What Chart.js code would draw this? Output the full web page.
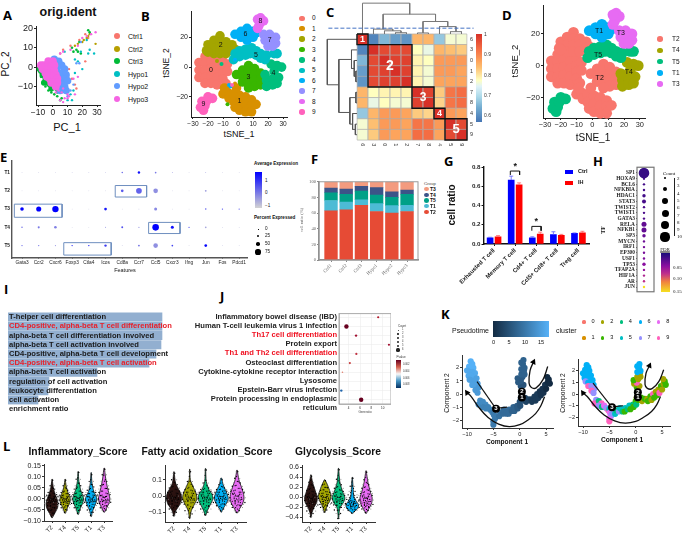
<!DOCTYPE html>
<html>
<head>
<meta charset="utf-8">
<title>T cell figure</title>
<script src="https://cdn.jsdelivr.net/npm/chart.js@4"></script>
<style>
  body { margin: 0; background: #fff; width: 685px; height: 535px; position: relative; overflow: hidden; }
  canvas { position: absolute; }
  .t { position: absolute; white-space: nowrap; line-height: 1; }
  .s { position: absolute; }
</style>
</head>
<body>
<script>
// ---- data ----
const pcGroups = ['Ctrl1', 'Ctrl2', 'Ctrl3', 'Hypo1', 'Hypo2', 'Hypo3']
const pcColors = ['#F8766D', '#B79F00', '#00BA38', '#00BFC4', '#619CFF', '#F564E3']
const pcCtrl1 = [[8,-1],[10,-3],[11,-6],[13,-6],[15,-9],[16,-11],[5,7],[7,9],[12,11],[18,14],[22,17],[24,15],[11,-1],[3,-9],[22,3]]
const pcCtrl2 = [[24,16],[23,15],[21,14],[20,13],[17,12],[15,11],[29,12],[25,17]]
const pcCtrl3 = [[25,18],[24,19],[18,13],[16,9],[17,8],[19,7],[13,10],[14,8],[-9,-2],[-8,-5],[-7,-8],[-5,-10],[-3,-12],[-1,-13],[1,-14],[3,-15],[5,-17],[6,-16],[-5,-7],[-2,-10],[3,-13]]
const pcHypo1 = [[23,14],[25,9],[28,7],[19,8],[15,4],[17,3],[20,-1],[7,-1],[12,-14],[14,-12],[10,-17],[13,-17],[24,7],[8,8],[15,-3]]
const pcHypo2 = [[19,13],[16,2],[18,2],[14,-9],[12,-12],[10,-15]]
const pcHypo3 = [[7,8],[5,7],[12,9],[17,11],[20,15],[29,18],[26,17],[23,16],[8,-16],[7,-18],[10,-14],[5,-17],[11,-15],[6,-13],[14,-6],[17,-5],[15,-14],[10,-16],[4,-12],[7,-11],[2,-13]]
const pcCoreGreen = [[-8,-2],[-7,-4],[-5,-6],[-8,0],[-4,-8],[-2,-9],[-9,-1],[1,-10],[3,-11],[-6,-8],[-1,-11]]
const pcCoreBlue = [[1,4],[4,3],[6,1],[8,-1],[6,-3],[9,-4],[7,-6],[10,-7],[6,-9],[8,-10],[5,-12],[9,-12],[3,0],[4,-3],[4,-7]]
const pcCorePink = [[-6,1],[-3,3],[0,3],[-7,-1],[-4,0],[-1,0],[1,1],[-5,-3],[-2,-3],[1,-2],[2,-4],[-2,-6],[0,-5],[3,-6],[1,-8],[3,-8],[-8,1],[-4,-5],[-1,-8],[2,-10]]

const clusterColors = ['#F8766D', '#D89000', '#A3A500', '#39B600', '#00BF7D', '#00BFC4', '#00B0F6', '#9590FF', '#E76BF3', '#FF62BC']
const tsne0 = [[-26,3],[-26,-2],[-26,-7],[-22,7],[-22,2.5],[-22,-2],[-22,-7],[-22,-11],[-18,8],[-18,3.5],[-18,-1],[-18,-6],[-18,-11],[-14,7],[-14,2.5],[-14,-2],[-14,-7],[-14,-12],[-10,4],[-10,0],[-10,-4],[-10,-8],[-8,-11],[-7,2],[-7,-3]]
const tsne1 = [[-10,-18],[-7,-17],[-6,-21],[-3,-18],[-3,-23],[-2,-27],[1,-19],[1,-24],[1,-29],[5,-20],[5,-25],[5,-30],[9,-22],[9,-26],[9,-30],[12,-25],[-9,-14],[-1,-14]]
const tsne2 = [[-20,15],[-16,18],[-16,13],[-16,9],[-12,21],[-12,17],[-12,13],[-12,9],[-8,17],[-8,13],[-8,9],[-4,15],[-4,11],[-2,12],[-21,11],[-20,10]]
const tsne3 = [[-1,-5],[3,-2],[3,-6],[3,-10],[7,1],[7,-3],[7,-7],[7,-11],[11,-1],[11,-5],[11,-9],[11,-13],[15,-4],[15,-8],[15,-12],[7,-14]]
const tsne4 = [[29,0],[26,1],[22,2],[24,-3],[19,-9],[23,-8],[27,-7],[19,-13],[23,-12],[26,-11],[18,-5]]
const tsne5 = [[-2,9],[1,11],[1,7],[5,8],[5,12],[9,13],[12,11],[12,8],[15,9],[15,6],[19,8],[18,5],[8,9],[24,9],[26,9],[-3,5]]
const tsne6 = [[-2,22],[2,24],[2,20],[6,26],[6,22],[6,18],[10,24],[10,20],[12,23]]
const tsne7 = [[17,22],[21,22],[25,20],[18,18],[22,18],[25,16],[20,14],[23,14]]
const tsne8 = [[15,33],[15,30],[13,26],[14,28],[17,31],[13,32]]
const tsne9 = [[-24,-23],[-22,-26],[-25,-27],[-21,-23],[-23,-29],[-17,-21],[-20,-20]]
const tsneClusters = [tsne0, tsne1, tsne2, tsne3, tsne4, tsne5, tsne6, tsne7, tsne8, tsne9]
const tsneLabelPos = [[-18,-2],[1,-23],[-11.5,14.7],[7,-7],[23.5,-4],[12,8],[5,22],[21,18],[15,31],[-23,-25]]
const tsneStray = [[-6,-12,6],[-5,-13,6],[-2,-11,1],[-7,-25,3],[-14,4,2],[-11,2,4],[-2,5,6],[-4,-12,9]]

const tGroups = ['T2', 'T4', 'T5', 'T1', 'T3']
const tColors = ['#F8766D', '#A3A500', '#00BF7D', '#00B0F6', '#E76BF3']
const tClusterMembers = [[0, 1, 2, 3], [4], [5, 9], [6], [7, 8]]
const tLabelPos = [[4.6,-8],[23,-3.8],[3.6,6.6],[4.2,22],[18,20.6]]

const corrOrder = ['6', '3', '0', '1', '2', '7', '8', '4', '5', '9']
const corrRow6 = [1, .6, .66, .63, .62, .85, .85, .68, .77, .77]
const corrRow3 = [.6, 1, .97, .97, .97, .78, .76, .85, .84, .83]
const corrRow0 = [.66, .97, 1, .98, .98, .79, .78, .88, .88, .88]
const corrRow1 = [.63, .97, .98, 1, .98, .79, .77, .88, .88, .87]
const corrRow2 = [.62, .97, .98, .98, 1, .79, .77, .87, .87, .87]
const corrRow7 = [.85, .78, .79, .79, .79, 1, .98, .83, .92, .93]
const corrRow8 = [.85, .76, .78, .77, .77, .98, 1, .82, .92, .93]
const corrRow4 = [.68, .85, .88, .88, .87, .83, .82, 1, .88, .87]
const corrRow5 = [.77, .84, .88, .88, .87, .92, .92, .88, 1, .97]
const corrRow9 = [.77, .83, .88, .87, .87, .93, .93, .87, .97, 1]
const corrRows = [corrRow6, corrRow3, corrRow0, corrRow1, corrRow2, corrRow7, corrRow8, corrRow4, corrRow5, corrRow9]
const corrBlocks = [[0, 0], [1, 4], [5, 6], [7, 7], [8, 9]]
const dendroTop = [[0,-.5,0,-3.41],[0,-3.41,4.29,-3.41],[4.29,-3.41,4.29,-2.37],[1.875,-2.37,6.64,-2.37],[1.875,-2.37,1.875,-.96],[1,-.96,2.75,-.96],[1,-.96,1,-.5],[2.75,-.96,2.75,-.8],[2,-.8,3.5,-.8],[2,-.8,2,-.5],[3.5,-.8,3.5,-.62],[3,-.62,4,-.62],[3,-.62,3,-.5],[4,-.62,4,-.5],[6.64,-2.37,6.64,-1.68],[5.5,-1.68,7.75,-1.68],[5.5,-1.68,5.5,-.6],[5,-.6,6,-.6],[5,-.6,5,-.5],[6,-.6,6,-.5],[7.75,-1.68,7.75,-1.2],[7,-1.2,8.5,-1.2],[7,-1.2,7,-.5],[8.5,-1.2,8.5,-.72],[8,-.72,9,-.72],[8,-.72,8,-.5],[9,-.72,9,-.5]]
const dendroLeft = [[-3.2,0,-.5,0],[-3.2,0,-3.2,4.29],[-3.2,4.29,-2.15,4.29],[-2.15,1.9,-2.15,6.9],[-2.15,1.9,-1,1.9],[-1,1,-1,2.75],[-1,1,-.5,1],[-1,2.75,-.75,2.75],[-.75,2,-.75,3.5],[-.75,2,-.5,2],[-.75,3.5,-.6,3.5],[-.6,3,-.6,4],[-.6,3,-.5,3],[-.6,4,-.5,4],[-2.15,6.9,-1.15,6.9],[-1.15,5.5,-1.15,8],[-1.15,5.5,-.6,5.5],[-.6,5,-.6,6],[-.6,5,-.5,5],[-.6,6,-.5,6],[-1.15,8,-.9,8],[-.9,7,-.9,8.5],[-.9,7,-.5,7],[-.9,8.5,-.65,8.5],[-.65,8,-.65,9],[-.65,8,-.5,8],[-.65,9,-.5,9]]

const dotFeatures = ['Gata3', 'Ccr2', 'Cxcr6', 'Foxp3', 'Ctla4', 'Icos', 'Cd8a', 'Ccr7', 'Ccl5', 'Cxcr3', 'Ifng', 'Jun', 'Fos', 'Pdcd1']
const dotRows = ['T1', 'T2', 'T3', 'T4', 'T5']
const dotPct = [
  [3, 3, 3, 3, 3, 4, 15, 30, 18, 6, 2, 5, 2, 2],
  [2, 2, 2, 1, 2, 3, 35, 85, 67, 2, 2, 20, 2, 1],
  [50, 75, 96, 2, 2, 35, 2, 4, 40, 2, 2, 15, 12, 10],
  [15, 25, 33, 2, 2, 8, 22, 10, 100, 40, 10, 18, 3, 3],
  [12, 12, 8, 12, 12, 30, 5, 22, 67, 18, 3, 35, 3, 3]
]
const dotAvg = [
  [-.6, -.6, -.6, -.5, -.5, -.4, .4, 1.6, .2, -.2, -.7, -.3, -.6, -.6],
  [-.7, -.7, -.7, -.7, -.7, -.7, .6, .5, -.1, -.7, -.7, -.3, -.7, -.7],
  [1.8, 1.8, 1.8, -.7, -.7, 1.5, -.7, -.5, 0, -.7, -.7, .6, .8, .8],
  [.3, .2, .1, -.7, -.7, -.2, .7, -.1, 1.8, 1.6, .9, -.4, -.6, -.6],
  [.4, .3, -.1, 1.3, 1.6, 1, -.6, .2, -.1, .9, -.7, 1.7, -.6, -.6]
]
const dotBoxes = [[-.46, 1.73, 2.4, 2.45], [5.58, .71, 7.46, 1.34], [7.58, 2.73, 9.46, 3.34], [2.5, 3.84, 5.34, 4.52]]

const stackSamples = ['Ctrl1', 'Ctrl2', 'Ctrl3', 'Hypo1', 'Hypo2', 'Hypo3']
const stackT2 = [63, 64, 70, 62, 60, 62]
const stackT1 = [13, 10, 7, 10, 9.5, 8]
const stackT5 = [10, 10, 11, 11, 10.5, 14]
const stackT4 = [6, 6.5, 6, 9.5, 7, 5.5]
const stackT3 = [8, 9.5, 6, 7.5, 13, 10.5]

const ratioLabels = ['Exhausted T cell', 'Memory T cell', 'Cd4+ T cell', 'Ccl5+ Cd8+ T cell', 'Treg cell']
const ratioCtrl = [.065, .665, .065, .097, .11]
const ratioIH = [.075, .615, .103, .09, .117]
const ratioCtrlErr = [.005, .04, .01, .03, .005]
const ratioIHErr = [.012, .02, .02, .01, .015]

const tfNames = ['SP1', 'HOXA9', 'BCL6', 'NFKBIA', 'HDAC1', 'STAT3', 'TWIST2', 'TWIST1', 'GATA3', 'RELA', 'NFKB1', 'SP3', 'MYCN', 'IRF1', 'EP300', 'USF1', 'TP53', 'TFAP2A', 'HIF1A', 'AR', 'JUN']
const tfCount = [10, 2, 2, 2, 3, 4, 2, 2, 2, 5, 5, 3, 2, 2, 2, 2, 3, 2, 2, 2, 2]
const tfFdr = [.012, .018, .018, .018, .018, .02, .022, .022, .024, .032, .032, .034, .036, .04, .042, .044, .05, .056, .07, .08, .15]

const goTerms = ['T-helper cell differentiation', 'CD4-positive, alpha-beta T cell differentiation', 'alpha-beta T cell differentiation involved', 'alpha-beta T cell activation involved', 'CD4-positive, alpha-beta T cell development', 'CD4-positive, alpha-beta T cell activation', 'alpha-beta T cell activation', 'regulation of cell activation', 'leukocyte differentiation', 'cell activation']
const goRatio = [15.4, 15.4, 15.4, 15.3, 14.8, 14.1, 8.9, 4.1, 4.0, 3.0]
const goRed = [1, 5]

const keggLines = ['Inflammatory bowel disease (IBD)', 'Human T-cell leukemia virus 1 infection', 'Th17 cell differentiation', 'Protein export', 'Th1 and Th2 cell differentiation', 'Osteoclast differentiation', 'Cytokine-cytokine receptor interaction', 'Lysosome', 'Epstein-Barr virus infection', 'Protein processing in endoplasmic', 'reticulum']
const keggRed = [2, 4]
const keggX = [9.2, 3.6, 5.3, 11.1, 5.35, 4.2, 2.9, null, 2.7, 6.2]
const keggSize = [1.1, 2.2, 1.2, 1.1, 1.1, 1.1, .8, 0, 1.2, 2.2]
const keggColor = ['#B2182B', '#67001F', '#A01030', '#A01030', '#C03040', '#C84040', '#E08070', '#fff', '#2166AC', '#67001F']

// x, y, pseudotime, cluster
const trajTop = [[-9.3,2.5,17,6],[-9,2.3,17,6],[-9.6,2.1,17,6],[-8.8,2,17,6],[-9.3,2,17,6],[-10,1.8,16,6],[-9.5,1.7,16,6],[-9,1.7,16,6],[-8.5,1.6,16,6],[-9.7,1.4,16,6],[-9.2,1.4,16,6],[-8.7,1.3,16,6],[-8.2,1.2,15,6],[-9.5,1.1,15,7],[-9,1,15,6],[-8.5,1,15,6],[-8,.8,15,6],[-9,.7,15,9],[-8.4,.7,15,7],[-7.8,.5,14,7],[-8.4,.3,14,9],[-8,.1,14,7]]
const trajMid = [[-7.5,-.5,12,7],[-7.8,-.8,12,9],[-7,-.6,12,4],[-6.5,-.8,12,9],[-7,-1,11,7],[-6.4,-1.1,11,4],[-6,-1,11,8],[-5.6,-1.2,11,7],[-5.2,-1.4,11,9],[-5,-1.3,10,5],[-4.9,-1.6,10,8],[-4.7,-1.9,10,7],[-5,-2.1,10,8],[-5,-2.35,10,9],[-4.5,-1.7,10,7]]
const trajArc = [[-3.9,-1.7,9,5],[-3.7,-1.4,9,4],[-3.2,-1.5,8,7],[-3,-1.2,8,5],[-2.5,-1.5,8,4],[-2,-1.2,8,5],[-2.1,-1.5,8,3],[-1.5,-1.3,7,4],[-1.2,-1,7,5],[-1,-1.3,7,3],[-.5,-.9,6,4],[-.4,-1.1,6,3],[0,-.6,5,3],[.1,-.9,5,4],[.2,-.3,5,2],[.5,-.5,5,3]]
const trajUp = [[.4,.2,5,2],[.2,.6,5,3],[.7,.7,5,2],[-.3,.9,6,2],[.2,1,6,9],[-.4,1.2,6,3],[.5,1.3,6,2],[.3,1.5,7,2],[.9,1.5,7,2],[.8,1.8,7,2],[.3,1.9,7,6],[.9,2,7,6],[.6,2.3,7,6],[.3,2.4,7,6],[.7,2.6,7,6]]
const trajRight = [[1,-.3,3,3],[1.2,-.6,3,2],[1.7,-.4,3,3],[2.2,-.4,2,2],[2.3,-.6,2,3],[2.8,-.2,2,3],[3,-.5,2,2],[3.3,0,2,9],[3.5,-.3,2,3],[3.8,.2,1,2],[4,-.1,1,3],[4.3,.4,1,2],[4.5,.1,1,9],[4.8,.7,1,3],[5,.4,0,2],[5.3,.9,0,2],[5.5,1.1,0,3],[5.2,1.3,0,2],[5.7,.8,0,3]]
const trajPoints = trajTop.concat(trajMid, trajArc, trajUp, trajRight)
const trajNodes = [[.4,-.27,'1'],[.4,.17,'2'],[-4.5,-1.13,'3']]
const arrowArc = [[4.7,-.2],[4,-.9],[3,-1.5],[1.5,-2],[0,-2.35],[-2,-2.5],[-4,-2.3],[-6,-1.8],[-8,-.9],[-9.2,-.2],[-10,.1]]
const arrowHook = [[5.3,2.1],[4.4,1.1],[3.1,.47],[2.2,.5],[1.76,.84],[1.95,1.8],[2.6,2.45]]
const arrowStem = [[-8.1,.95],[-4.3,-1.25]]
const arrowNode = [[-4.5,-1.1],[-2.4,-1]]

const scoreLabels = ['T2', 'T4', 'T5', 'T1', 'T3']
const violinColors = ['#2a1210', '#A3A500', '#00BF7D', '#00B0F6', '#E76BF3']
const jitter = [.05,-.15,.2,-.3,.35,-.4,.45,-.25,.1,-.45,.3,-.1,.5,-.35,.2,-.3,.15,-.05]
const inflamShapes = [
  [[.09,.01],[.05,.1],[.02,.25],[0,.38],[-.02,.46],[-.04,.42],[-.06,.25],[-.085,.02]],
  [[.09,.01],[.06,.08],[.03,.22],[.01,.36],[-.005,.4],[-.02,.34],[-.04,.18],[-.065,.02]],
  [[.125,.01],[.08,.06],[.04,.2],[.015,.36],[0,.42],[-.02,.34],[-.045,.15],[-.07,.02]],
  [[.12,.01],[.07,.07],[.035,.2],[.015,.36],[0,.44],[-.02,.36],[-.05,.14],[-.08,.01]],
  [[.14,.02],[.1,.1],[.06,.22],[.02,.38],[0,.44],[-.02,.36],[-.04,.2],[-.06,.03]]
]
const inflamDots = [
  [.085,.06,.045,.03,.02,.015,.01,.005,0,-.005,-.01,-.015,-.02,-.03,-.04,-.05,-.065,-.08],
  [.085,.06,.04,.03,.02,.015,.01,.005,0,-.005,-.01,-.015,-.02,-.025,-.03,-.04,-.05,-.06],
  [.12,.09,.06,.045,.03,.02,.015,.01,.005,0,-.005,-.01,-.015,-.02,-.03,-.04,-.05,-.065],
  [.11,.08,.055,.04,.03,.02,.015,.01,0,-.005,-.01,-.015,-.02,-.03,-.04,-.05,-.06,-.075],
  [.135,.11,.08,.06,.045,.03,.02,.015,.01,0,-.005,-.01,-.015,-.02,-.03,-.04,-.05,-.055]
]
const faoShapes = [
  [[.15,.01],[.08,.1],[.04,.3],[.01,.45],[-.02,.48],[-.05,.38],[-.09,.12],[-.125,.01]],
  [[.165,.01],[.1,.04],[.05,.25],[.01,.42],[-.02,.45],[-.05,.3],[-.09,.1],[-.14,.01]],
  [[.17,.01],[.09,.05],[.04,.22],[.01,.42],[-.02,.46],[-.05,.32],[-.09,.12],[-.12,.01]],
  [[.11,.03],[.07,.12],[.03,.3],[0,.42],[-.02,.44],[-.05,.3],[-.08,.1],[-.1,.01]],
  [[.16,.01],[.1,.12],[.05,.3],[.01,.42],[-.02,.44],[-.05,.34],[-.08,.15],[-.105,.02]]
]
const faoDots = [
  [.14,.1,.07,.05,.03,.02,.01,0,-.01,-.015,-.02,-.03,-.04,-.05,-.06,-.08,-.1,-.12],
  [.15,.09,.06,.04,.03,.02,.01,0,-.01,-.02,-.025,-.03,-.04,-.05,-.07,-.09,-.11,-.13],
  [.16,.08,.05,.04,.03,.02,.01,0,-.01,-.015,-.02,-.03,-.04,-.05,-.06,-.08,-.1,-.115],
  [.1,.07,.05,.04,.03,.02,.01,0,-.005,-.01,-.02,-.025,-.03,-.04,-.05,-.06,-.08,-.09],
  [.15,.11,.08,.06,.04,.03,.02,.01,0,-.01,-.02,-.03,-.04,-.05,-.06,-.07,-.09,-.1]
]
const glycoShapes = [
  [[.45,.01],[.3,.12],[.1,.35],[0,.46],[-.1,.42],[-.2,.22],[-.3,.08],[-.4,.01]],
  [[.35,.02],[.25,.2],[.1,.4],[.02,.46],[-.08,.36],[-.15,.2],[-.25,.08],[-.3,.01]],
  [[.58,.01],[.3,.1],[.1,.32],[0,.46],[-.1,.36],[-.2,.12],[-.3,.05],[-.43,.01]],
  [[.4,.01],[.2,.06],[0,.12],[-.08,.3],[-.15,.46],[-.22,.4],[-.27,.2],[-.32,.01]],
  [[.53,.01],[.3,.14],[.1,.32],[0,.44],[-.1,.42],[-.2,.26],[-.27,.1],[-.32,.02]]
]
const glycoDots = [
  [.42,.3,.2,.14,.08,.04,.02,0,-.03,-.06,-.09,-.12,-.15,-.18,-.22,-.27,-.32,-.38],
  [.33,.25,.19,.14,.1,.07,.04,.02,0,-.02,-.05,-.08,-.11,-.14,-.17,-.2,-.25,-.29],
  [.55,.36,.25,.18,.12,.08,.04,.02,0,-.03,-.06,-.09,-.12,-.15,-.2,-.25,-.32,-.42],
  [.38,.22,.12,.05,0,-.04,-.07,-.1,-.12,-.14,-.16,-.18,-.2,-.22,-.24,-.26,-.28,-.31],
  [.5,.35,.25,.18,.12,.08,.04,.01,-.02,-.05,-.08,-.11,-.14,-.17,-.2,-.23,-.26,-.3]
]

// ---- helpers ----
const SANS = '"Liberation Sans", Arial, sans-serif'
const SERIF = '"Liberation Serif", "Times New Roman", serif'
const heatStops = [[.58,'#4575B4'],[.65,'#74ADD1'],[.7,'#ABD9E9'],[.75,'#E0F3F8'],[.78,'#FFFFBF'],[.84,'#FDBF71'],[.87,'#FDA45C'],[.9,'#F88650'],[.93,'#F46D43'],[1,'#D73027']]
const fdrStops = [[0,'#1B0C7A'],[.05,'#8A0FA0'],[.08,'#C0308A'],[.11,'#F08040'],[.15,'#F5E020']]

Chart.defaults.animation = false
Chart.defaults.font.family = SANS

function hex(c) { return [1, 3, 5].map(i => parseInt(c.substr(i, 2), 16)) }
function ramp(stops, v) {
  if (v <= stops[0][0]) return stops[0][1]
  for (let i = 1; i < stops.length; i++) {
    if (v <= stops[i][0]) {
      const t = (v - stops[i - 1][0]) / (stops[i][0] - stops[i - 1][0])
      const a = hex(stops[i - 1][1]), b = hex(stops[i][1])
      return `rgb(${a.map((p, k) => Math.round(p + (b[k] - p) * t)).join(',')})`
    }
  }
  return stops[stops.length - 1][1]
}
function cssGradient(dir, stops) {
  const lo = stops[0][0], hi = stops[stops.length - 1][0]
  return `linear-gradient(${dir},` + stops.map(s => `${s[1]} ${(s[0] - lo) / (hi - lo) * 100}%`).join(',') + ')'
}

function txt(s, x, y, o = {}) {
  const d = document.createElement('div')
  d.className = 't'
  d.textContent = s
  const ax = { l: 0, c: -50, r: -100 }[o.align || 'l']
  d.style.cssText = `left:${x}px;top:${y}px;font-size:${o.size || 7}px;font-weight:${o.bold ? 700 : 400};` +
    `color:${o.color || '#111'};font-family:${o.font || SANS};transform:translate(${ax}%,-50%) rotate(${o.rot || 0}deg);` +
    (o.under ? 'text-decoration:underline;' : '')
  document.body.appendChild(d)
}
function swatch(x, y, w, h, bg, round) {
  const d = document.createElement('div')
  d.className = 's'
  d.style.cssText = `left:${x}px;top:${y}px;width:${w}px;height:${h}px;background:${bg};` + (round ? 'border-radius:50%;' : '')
  document.body.appendChild(d)
}
function dot(x, y, r, c) { swatch(x - r, y - r, 2 * r, 2 * r, c, true) }

function notes(items) {
  return {
    id: 'notes',
    afterDatasetsDraw(chart) {
      const ctx = chart.ctx
      items.forEach(n => {
        const px = chart.scales.x.getPixelForValue(n.x)
        const py = chart.scales.y.getPixelForValue(n.y)
        ctx.save()
        ctx.translate(px, py)
        if (n.rot) ctx.rotate(n.rot)
        ctx.font = n.font || `7px ${SANS}`
        ctx.fillStyle = n.color || '#111'
        ctx.textAlign = n.align || 'center'
        ctx.textBaseline = 'middle'
        ctx.fillText(n.text, 0, 0)
        ctx.restore()
      })
    }
  }
}
function frame(color, w) {
  return {
    id: 'frame',
    afterDraw(chart) {
      const a = chart.chartArea, ctx = chart.ctx
      ctx.save()
      ctx.strokeStyle = color
      ctx.lineWidth = w
      ctx.strokeRect(a.left, a.top, a.right - a.left, a.bottom - a.top)
      ctx.restore()
    }
  }
}

// box = plot area in page pixels, m = room kept round it for ticks and labels
function plot(box, m, cfg) {
  const [l, t, r, b] = box, [ml, mt, mr, mb] = m
  const c = document.createElement('canvas')
  const w = r - l + ml + mr, h = b - t + mt + mb
  c.width = w
  c.height = h
  c.style.cssText = `left:${l - ml}px;top:${t - mt}px;width:${w}px;height:${h}px`
  document.body.appendChild(c)
  const scales = cfg.scales
  if (scales.x.display !== false) scales.x.afterFit = s => { s.height = mb }
  if (scales.y.display !== false) scales.y.afterFit = s => { s.width = ml }
  if (cfg.layered !== false) {
    const n = cfg.datasets.length
    cfg.datasets.forEach((d, i) => { d.order = n - i })
  }
  return new Chart(c, {
    type: cfg.type || 'scatter',
    data: { labels: cfg.labels, datasets: cfg.datasets },
    plugins: cfg.plugins || [],
    options: {
      responsive: false,
      events: [],
      indexAxis: cfg.indexAxis || 'x',
      layout: {
        autoPadding: false,
        padding: {
          left: scales.y.display === false ? ml : 0, top: mt, right: mr,
          bottom: scales.x.display === false ? mb : 0
        }
      },
      plugins: { legend: { display: false }, tooltip: { enabled: false } },
      scales
    }
  })
}
function axis(min, max, list, o = {}) {
  const color = o.axis || '#222'
  return {
    type: 'linear', min, max, offset: false, reverse: !!o.reverse, stacked: !!o.stacked,
    afterBuildTicks: s => { s.ticks = list.map(v => ({ value: v })) },
    ticks: {
      font: { size: o.size || 7, family: o.font || SANS, weight: o.bold ? 'bold' : 'normal' },
      color: o.color || '#222', padding: o.pad === undefined ? 1 : o.pad, autoSkip: false,
      maxRotation: o.rot || 0, minRotation: o.rot || 0,
      callback: o.fmt || (v => String(v).replace('-', '−'))
    },
    grid: o.grid ? { color: o.grid, lineWidth: .5, tickLength: 1, offset: false } : { drawOnChartArea: false, color, tickLength: o.tick === undefined ? 2 : o.tick, offset: false },
    border: { display: o.noBorder ? false : true, color, width: o.w || 1 }
  }
}
function hidden(min, max, reverse) { return { type: 'linear', display: false, offset: false, min, max, reverse: !!reverse } }
function pts(list) { return list.map(p => ({ x: p[0], y: p[1] })) }
function dots(list, color, r) {
  return { data: pts(list), pointRadius: r, pointBackgroundColor: color, pointBorderWidth: 0, clip: false }
}
function poly(list, color, w, dash) {
  return { data: pts(list), showLine: true, borderColor: color, borderWidth: w, borderDash: dash || [], pointRadius: 0, tension: 0, clip: false, spanGaps: false }
}
function segments(list) {
  const flat = []
  list.forEach(s => flat.push([s[0], s[1]], [s[2], s[3]], [NaN, NaN]))
  return flat
}
function rectPath(x1, y1, x2, y2) { return [[x1, y1], [x2, y1], [x2, y2], [x1, y2], [x1, y1]] }

// ---- panel letters ----
const panelLetters = [['A',3,15],['B',141,16],['C',326,12],['D',502,15],['E',0,157],['F',311,159],['G',444,161],['H',593,161],['I',4,289],['J',220,296],['K',441,314],['L',3,446]]
panelLetters.forEach(p => txt(p[0], p[1], p[2], { size: 13, bold: true, font: '"Open Sans", sans-serif', color: '#000' }))

// ---- A ----
txt('orig.ident', 68, 12, { size: 12.5, bold: true, align: 'c' })
plot([36, 23, 100, 105], [18, 3, 6, 13], {
  scales: { x: axis(-11.4, 32, [-10, 0, 10, 20, 30], { size: 8.5 }), y: axis(-19.5, 21, [-10, 0, 10, 20], { size: 9 }) },
  datasets: [
    dots(pcCoreGreen, pcColors[2], 3),
    dots(pcCtrl1, pcColors[0], 1.2), dots(pcCtrl2, pcColors[1], 1.2), dots(pcCtrl3, pcColors[2], 1.3), dots(pcHypo1, pcColors[3], 1.2),
    dots(pcCoreBlue, pcColors[4], 3.8), dots(pcHypo2, pcColors[4], 1.2),
    dots(pcCorePink, pcColors[5], 4), dots(pcHypo3, pcColors[5], 1.2)
  ]
})
txt('PC_2', 6, 64, { size: 10, align: 'c', rot: -90 })
txt('PC_1', 67, 127, { size: 11, align: 'c' })
pcGroups.forEach((g, i) => { dot(117, 36 + i * 12.6, 3, pcColors[i]); txt(g, 128, 36 + i * 12.6, { size: 7 }) })

// ---- B ----
const tsneX = [-30, -20, -10, 0, 10, 20, 30]
plot([191, 9, 287, 117], [16, 3, 5, 10], {
  scales: { x: axis(-31.3, 32.6, tsneX, { size: 6.6 }), y: axis(-33.5, 37.5, [-20, 0, 20], { size: 7 }) },
  datasets: tsneClusters.map((p, i) => dots(p, clusterColors[i], 4.8)).concat(tsneStray.map(s => dots([s], clusterColors[s[2]], 2))),
  plugins: [notes(tsneLabelPos.map((p, i) => ({ x: p[0], y: p[1], text: String(i), font: `7px ${SANS}`, color: '#111' })))]
})
txt('tSNE_2', 166, 63, { size: 8.5, align: 'c', rot: -90 })
txt('tSNE_1', 239, 134, { size: 9, align: 'c' })
clusterColors.forEach((c, i) => { dot(302, 18.3 + i * 10.4, 2.7, c); txt(String(i), 312, 18.3 + i * 10.4, { size: 6.5 }) })

// ---- C ----
const heatCells = []
corrRows.forEach((row, j) => row.forEach((v, i) => heatCells.push({ x: i, y: j, v })))
const heatNotes = [
  ...corrOrder.map((s, i) => ({ x: 9.77, y: i, text: s, align: 'left', font: `5.5px ${SANS}`, color: '#333' })),
  ...corrOrder.map((s, i) => ({ x: i, y: 9.95, text: s, rot: Math.PI / 2, font: `5.5px ${SANS}`, color: '#333' })),
  { x: 0, y: 0, text: '1', color: '#fff', font: `bold 9px ${SANS}` },
  { x: 2.5, y: 2.5, text: '2', color: '#fff', font: `bold 14px ${SANS}` },
  { x: 5.5, y: 5.5, text: '3', color: '#fff', font: `bold 12px ${SANS}` },
  { x: 7, y: 7, text: '4', color: '#fff', font: `bold 9px ${SANS}` },
  { x: 8.5, y: 8.5, text: '5', color: '#fff', font: `bold 13px ${SANS}` }
]
plot([326, 1, 478, 152], [0, 1, 0, 0], {
  scales: { x: hidden(-3.318, 10.5), y: hidden(-3.613, 10.63, true) },
  datasets: [
    {
      data: heatCells, pointStyle: 'rect', pointRadius: 7.6, pointBorderWidth: .6, pointBorderColor: '#a8a8a8', clip: false,
      pointBackgroundColor: heatCells.map(c => ramp(heatStops, c.v))
    },
    poly(segments(dendroTop), '#777', 1),
    poly(segments(dendroLeft), '#555', 1),
    poly([[-3.1, -1.05], [10.1, -1.05]], '#4472C4', 1, [4, 2]),
    ...corrBlocks.map(b => poly(rectPath(b[0] - .5, b[0] - .5, b[1] + .5, b[1] + .5), '#111', 1.4))
  ],
  plugins: [notes(heatNotes)]
})
swatch(476, 34, 6, 88, cssGradient('to top', heatStops))
const heatTicks = [['1', 34], ['0.9', 54], ['0.8', 75], ['0.7', 95], ['0.6', 115]]
heatTicks.forEach(k => txt(k[0], 484, k[1], { size: 5, color: '#333' }))

// ---- D ----
plot([543, 0, 645, 118], [18, 0, 6, 12], {
  scales: { x: axis(-31.3, 33.3, tsneX, { size: 7.4 }), y: axis(-33, 37.7, [-20, 0, 20], { size: 8 }) },
  datasets: tClusterMembers.map((ids, i) => dots(ids.flatMap(k => tsneClusters[k]), tColors[i], 5.4)),
  plugins: [notes(tLabelPos.map((p, i) => ({ x: p[0], y: p[1], text: tGroups[i], font: `7px ${SANS}`, color: '#111' })))]
})
txt('tSNE_2', 515, 61, { size: 9.5, align: 'c', rot: -90 })
txt('tSNE_1', 593, 138, { size: 10, align: 'c' })
tGroups.forEach((g, i) => { dot(660, 39 + i * 11.3, 2.8, tColors[i]); txt(g, 672, 39 + i * 11.3, { size: 6.5 }) })

// ---- E ----
const dotCells = []
dotPct.forEach((row, j) => row.forEach((p, i) => dotCells.push({ x: i, y: j, r: .3 + p * .03, c: ramp([[-1,'#D3D3D3'],[1.8,'#0000FF']], dotAvg[j][i]) })))
plot([12, 158, 247, 258], [11, 1, 1, 11], {
  scales: {
    x: axis(-.6, 13.47, dotFeatures.map((f, i) => i), { size: 4.8, axis: '#555', w: 1.4, tick: 1, fmt: v => dotFeatures[v] }),
    y: axis(-.64, 4.68, dotRows.map((f, i) => i), { size: 4.8, bold: true, axis: '#555', w: 1.4, tick: 1, reverse: true, fmt: v => dotRows[v] })
  },
  datasets: [
    { data: dotCells, pointRadius: dotCells.map(c => c.r), pointBackgroundColor: dotCells.map(c => c.c), pointBorderWidth: 0 },
    ...dotBoxes.map(b => poly(rectPath(b[0], b[1], b[2], b[3]), '#6F8FBF', 1))
  ]
})
txt('Features', 125, 271, { size: 5.5, align: 'c' })
txt('Average Expression', 254, 164, { size: 4.6, bold: true })
swatch(255, 172, 7, 36, 'linear-gradient(to top,#D3D3D3,#0000FF)')
const expTicks = [['1', 181], ['0', 193], ['−1', 206]]
expTicks.forEach(k => txt(k[0], 265, k[1], { size: 4.6 }))
txt('Percent Expressed', 254, 218, { size: 4.6, bold: true })
const pctLegend = [['0', 229, .3], ['25', 236, 1.05], ['50', 244, 1.8], ['75', 252, 2.55]]
pctLegend.forEach(k => { dot(258, k[1], k[2], '#000'); txt(k[0], 265, k[1], { size: 4.6 }) })

// ---- F ----
const npg = { T2: '#E64B35', T1: '#4DBBD5', T5: '#00A087', T4: '#3C5488', T3: '#F39B7F' }
const stackSeries = [['T2', stackT2], ['T1', stackT1], ['T5', stackT5], ['T4', stackT4], ['T3', stackT3]]
plot([319, 180, 418, 260], [14, 2, 2, 22], {
  type: 'bar', layered: false,
  scales: {
    x: axis(-.79, 5.72, stackSamples.map((s, i) => i), { size: 4.8, font: SERIF, axis: '#888', w: 1.5, rot: 45, color: '#666', stacked: true, fmt: v => stackSamples[v] }),
    y: axis(0, 100, [0, 20, 40, 60, 80, 100], { size: 4.6, font: SERIF, axis: '#888', w: 1.5, color: '#666', stacked: true })
  },
  datasets: stackSeries.map(s => ({ data: s[1].map((v, i) => ({ x: i, y: v })), backgroundColor: npg[s[0]], barThickness: 12.7, borderWidth: 0 })),
  plugins: [frame('#999', 1)]
})
txt('cell ratio (%)', 302, 220, { size: 4.6, font: SERIF, align: 'c', rot: -90, color: '#666' })
txt('Group', 424, 184, { size: 4.6, font: SERIF, color: '#444' })
const stackLegend = ['T3', 'T4', 'T5', 'T1', 'T2']
stackLegend.forEach((g, i) => { swatch(424, 187 + i * 5.7, 5, 4.4, npg[g], true); txt(g, 430, 189 + i * 5.7, { size: 5, bold: true }) })

// ---- G ----
const groupShift = .188
const errorBars = {
  id: 'errorBars',
  afterDatasetsDraw(chart) {
    const errs = [ratioCtrlErr, ratioIHErr], cols = ['#5A5AFF', '#FF6060'], ctx = chart.ctx
    errs.forEach((list, k) => {
      chart.getDatasetMeta(k).data.forEach((bar, i) => {
        const top = chart.scales.y.getPixelForValue(chart.data.datasets[k].data[i].y + list[i])
        ctx.save()
        ctx.strokeStyle = cols[k]
        ctx.lineWidth = .8
        ctx.beginPath()
        ctx.moveTo(bar.x, bar.y)
        ctx.lineTo(bar.x, top)
        ctx.moveTo(bar.x - 2, top)
        ctx.lineTo(bar.x + 2, top)
        ctx.stroke()
        ctx.restore()
      })
    })
  }
}
const sigBrackets = [[.77, .717, .77, .758], [.77, .758, 1.21, .758], [1.21, .758, 1.21, .717], [1.79, .138, 1.79, .183], [1.79, .183, 2.23, .183], [2.23, .183, 2.23, .138]]
const sigStars = [[1, .805], [2, .23]]
plot([474, 167, 589, 244], [16, 8, 4, 56], {
  type: 'bar', layered: false,
  scales: {
    x: axis(-.5, 4.5, ratioLabels.map((s, i) => i), { size: 6, bold: true, axis: '#111', w: 1.4, rot: 45, fmt: v => ratioLabels[v] }),
    y: axis(0, .8, [0, .2, .4, .6, .8], { size: 6.2, bold: true, axis: '#111', w: 1.4, fmt: v => v.toFixed(1) })
  },
  datasets: [
    { data: ratioCtrl.map((v, i) => ({ x: i - groupShift, y: v })), backgroundColor: '#0000FF', barThickness: 6, grouped: false, borderWidth: 0 },
    { data: ratioIH.map((v, i) => ({ x: i + groupShift, y: v })), backgroundColor: '#FF0000', barThickness: 6, grouped: false, borderWidth: 0 },
    { type: 'scatter', ...poly(segments(sigBrackets), '#111', 1) }
  ],
  plugins: [errorBars, notes(sigStars.map(s => ({ x: s[0], y: s[1], text: '*', font: `bold 9px ${SANS}`, color: '#111' })))]
})
txt('cell ratio', 452, 205, { size: 10, bold: true, align: 'c', rot: -90 })
swatch(565, 170, 8, 3.5, '#0000FF')
txt('Ctrl', 578, 172, { size: 5.5, bold: true })
swatch(565, 181, 8, 3.5, '#FF0000')
txt('IH', 578, 183, { size: 5.5, bold: true })

// ---- H ----
const countR = { 2: 1.2, 3: 1.7, 4: 2, 5: 2.5, 10: 5.3 }
plot([637, 164, 654, 295], [36, 1, 1, 1], {
  scales: {
    x: hidden(-1, 1.43),
    y: axis(-1, 20.83, tfNames.map((n, i) => i), { size: 5.4, bold: true, font: SERIF, reverse: true, noBorder: true, axis: '#555', tick: 1, fmt: v => tfNames[v] })
  },
  datasets: [{
    data: tfNames.map((n, i) => ({ x: 0, y: i })), pointRadius: tfCount.map(c => countR[c]), pointBorderWidth: 0,
    pointBackgroundColor: tfFdr.map(v => ramp(fdrStops, v))
  }],
  plugins: [frame('#777', 1.2)]
})
txt('TF', 603, 230, { size: 6, bold: true, font: SERIF, align: 'c', rot: -90 })
txt('Count', 669, 173, { size: 5, font: SERIF, align: 'c' })
const countLegend = [[178, 1], [189, 2.2], [201, 2.9], [213, 3.5], [225, 4], [237, 4.6]]
countLegend.forEach(k => dot(665, k[0], k[1], '#000'))
swatch(674, 178, .7, 58, '#222')
const countTicks = ['2', '3', '4', '5', '6', '7', '8', '9', '10']
countTicks.forEach((s, i) => txt(s, 677, 178 + i * 7.3, { size: 5, font: SERIF }))
txt('FDR', 665, 249, { size: 5, font: SERIF, align: 'c', under: true })
swatch(661, 253, 9, 39, cssGradient('to bottom', fdrStops))
const fdrTicks = [['0.05', 267], ['0.10', 278], ['0.15', 291]]
fdrTicks.forEach(k => txt(k[0], 673, k[1], { size: 5, font: SERIF }))

// ---- I ----
plot([8, 312, 168, 405], [0, 0, 14, 0], {
  type: 'bar', layered: false, indexAxis: 'y',
  scales: { x: hidden(0, 16), y: hidden(-.55, 9.55, true) },
  datasets: [{ data: goRatio.map((v, i) => ({ x: v, y: i })), backgroundColor: '#92AFD0', barThickness: 8.3, borderWidth: 0, clip: false }],
  plugins: [notes(goTerms.map((s, i) => ({
    x: .1, y: i, text: s, align: 'left', font: `bold 7.6px ${SANS}`, color: goRed.includes(i) ? '#E8202A' : '#1a1a1a'
  })))]
})
txt('enrichment ratio', 9, 409, { size: 7.6, bold: true, color: '#1a1a1a' })

// ---- J ----
const keggCells = keggX.map((x, i) => ({ x, y: i })).filter(p => p.x !== null)
const keggRows = keggX.map((x, i) => i).filter(i => keggX[i] !== null)
plot([339, 312, 391, 404], [145, 0, 0, 13], {
  scales: {
    x: axis(2.29, 11.46, [4, 6, 8, 10], { size: 3, grid: '#e8e8e8', axis: '#bbb' }),
    y: axis(-.4, 9.46, [0, 1, 2, 3, 4, 5, 6, 7, 8, 9], { size: 1, grid: '#e8e8e8', axis: '#bbb', tick: 0, reverse: true, fmt: () => '' })
  },
  datasets: [{
    data: keggCells, pointBorderWidth: 0,
    pointRadius: keggRows.map(i => keggSize[i]), pointBackgroundColor: keggRows.map(i => keggColor[i])
  }],
  plugins: [frame('#aaa', 1), notes(keggLines.map((s, i) => ({
    x: 1.94, y: i * .985, text: s, align: 'right', font: `bold 7.6px ${SANS}`, color: keggRed.includes(i) ? '#F01020' : '#222'
  })))]
})
txt('Generatio', 365, 412, { size: 3, align: 'c', color: '#444' })
txt('Count', 402, 326, { size: 3, align: 'c', color: '#333' })
const keggSizeLegend = [[330, .5, '1'], [334, .7, '2'], [338, .9, '3'], [342, 1.1, '4'], [346, 1.3, '5'], [350, 1.6, '6']]
keggSizeLegend.forEach(k => { dot(398, k[0], k[1], '#222'); txt(k[2], 402, k[0], { size: 2.6, color: '#333' }) })
txt('Pvalue', 401, 357, { size: 3, align: 'c', color: '#333' })
swatch(396, 360, 5, 28, 'linear-gradient(to bottom,#67001F,#D6604D,#F7F7F7,#4393C3,#053061)')
const pvalTicks = [['0.002', 365], ['0.004', 372], ['0.006', 379], ['0.008', 385]]
pvalTicks.forEach(k => txt(k[0], 403, k[1], { size: 2.6, color: '#333' }))

// ---- K ----
txt('Pseudotime', 452, 330, { size: 7 })
swatch(493, 321, 56, 16, 'linear-gradient(to right,#132B43,#56B1F7)')
const timeTicks = [[0, 493.5], [5, 509], [10, 525], [15, 541]]
timeTicks.forEach(k => txt(String(k[0]), k[1], 343, { size: 5.6, align: 'c' }))
txt('cluster', 556, 330, { size: 7 })
clusterColors.forEach((c, i) => {
  const px = 584 + Math.floor(i / 2) * 18.7, py = i % 2 ? 338 : 322
  dot(px, py, 1.6, c)
  txt(String(i), px + 9, py, { size: 5.6, align: 'c' })
})
const timeRamp = [[0,'#132B43'],[17,'#56B1F7']]
function arrowHead(p, deg) {
  return { data: pts([p]), pointStyle: 'triangle', pointRotation: deg, pointRadius: 3.5, pointBackgroundColor: '#000', pointBorderWidth: 0, clip: false }
}
function trajPlot(box, xr, yr, colorOf) {
  return plot(box, [16, 2, 2, 12], {
    scales: {
      x: axis(xr[0], xr[1], [-10, -5, 0, 5], { size: 5.6, axis: '#333' }),
      y: axis(yr[0], yr[1], [-2, -1, 0, 1, 2], { size: 5.6, axis: '#333' })
    },
    datasets: [
      { data: pts(trajPoints), pointRadius: 3.1, pointBorderWidth: 0, clip: false, pointBackgroundColor: trajPoints.map(colorOf) },
      { ...poly(arrowArc, '#111', 1.3), tension: .4 },
      { ...poly(arrowHook, '#111', 1.3), tension: .4 },
      poly(arrowStem, '#111', 1.1),
      poly(arrowNode, '#111', 1.1),
      arrowHead(arrowArc[arrowArc.length - 1], -35),
      arrowHead(arrowHook[arrowHook.length - 1], 25),
      { data: trajNodes.map(n => ({ x: n[0], y: n[1] })), pointRadius: 4, pointBackgroundColor: '#000', pointBorderWidth: 0, clip: false }
    ],
    plugins: [notes(trajNodes.map(n => ({ x: n[0], y: n[1], text: n[2], font: `bold 6px ${SANS}`, color: '#fff' })))]
  })
}
trajPlot([462, 353, 553, 428], [-10.95, 6.3], [-2.6, 2.96], p => ramp(timeRamp, p[2]))
trajPlot([578, 357, 670, 426], [-10.95, 6.5], [-2.75, 3], p => clusterColors[p[3]])
txt('Component 2', 447, 393, { size: 6.6, align: 'c', rot: -90 })
txt('Component 1', 507, 442, { size: 6.6, bold: true, align: 'c' })
txt('Component 2', 563, 393, { size: 6.6, align: 'c', rot: -90 })
txt('Component 1', 622, 440, { size: 6.6, bold: true, align: 'c' })

// ---- L ----
function violinPanel(box, xr, yr, ticks, fmt, shapes, values) {
  const sets = []
  shapes.forEach((prof, i) => {
    const right = prof.map(p => [i + p[1], p[0]])
    const left = prof.map(p => [i - p[1], p[0]]).reverse()
    sets.push({ data: pts(right.concat(left, [right[0]])), showLine: true, fill: 'shape', backgroundColor: violinColors[i], borderColor: '#111', borderWidth: .8, pointRadius: 0, tension: .25, clip: false })
  })
  values.forEach((ys, i) => {
    sets.push(dots(ys.map((y, k) => [i - jitter[k] * 1.15, y]), '#777', .5))
    sets.push(dots(ys.map((y, k) => [i + jitter[k], y]), '#000', .7))
    sets.push(dots(ys.map((y, k) => [i - jitter[k] * .6, y * .8]), '#000', .6))
    sets.push(dots(ys.map((y, k) => [i + jitter[k] * .4, y * .6]), '#000', .6))
  })
  plot(box, [24, 1, 2, 14], {
    scales: {
      x: axis(xr[0], xr[1], [0, 1, 2, 3, 4], { size: 6.2, rot: 45, axis: '#333', fmt: v => scoreLabels[v] }),
      y: axis(yr[0], yr[1], ticks, { size: 7, axis: '#333', fmt })
    },
    datasets: sets
  })
}
const minus = d => v => v.toFixed(d).replace('-', '−')
violinPanel([44, 460, 112, 521], [-.62, 4.6], [-.1, .158], [-.1, -.05, 0, .05, .1, .15], minus(2), inflamShapes, inflamDots)
violinPanel([165, 461, 246, 522], [-.57, 4.57], [-.16, .19], [-.1, 0, .1], minus(1), faoShapes, faoDots)
violinPanel([302, 461, 375, 522], [-.65, 4.65], [-.49, .64], [-.4, -.2, 0, .2, .4, .6], minus(1), glycoShapes, glycoDots)
txt('Inflammatory_Score', 78, 452, { size: 10.3, bold: true, align: 'c' })
txt('Fatty acid oxidation_Score', 207, 452, { size: 10.3, bold: true, align: 'c' })
txt('Glycolysis_Score', 338, 452, { size: 10.3, bold: true, align: 'c' })
</script>
</body>
</html>
